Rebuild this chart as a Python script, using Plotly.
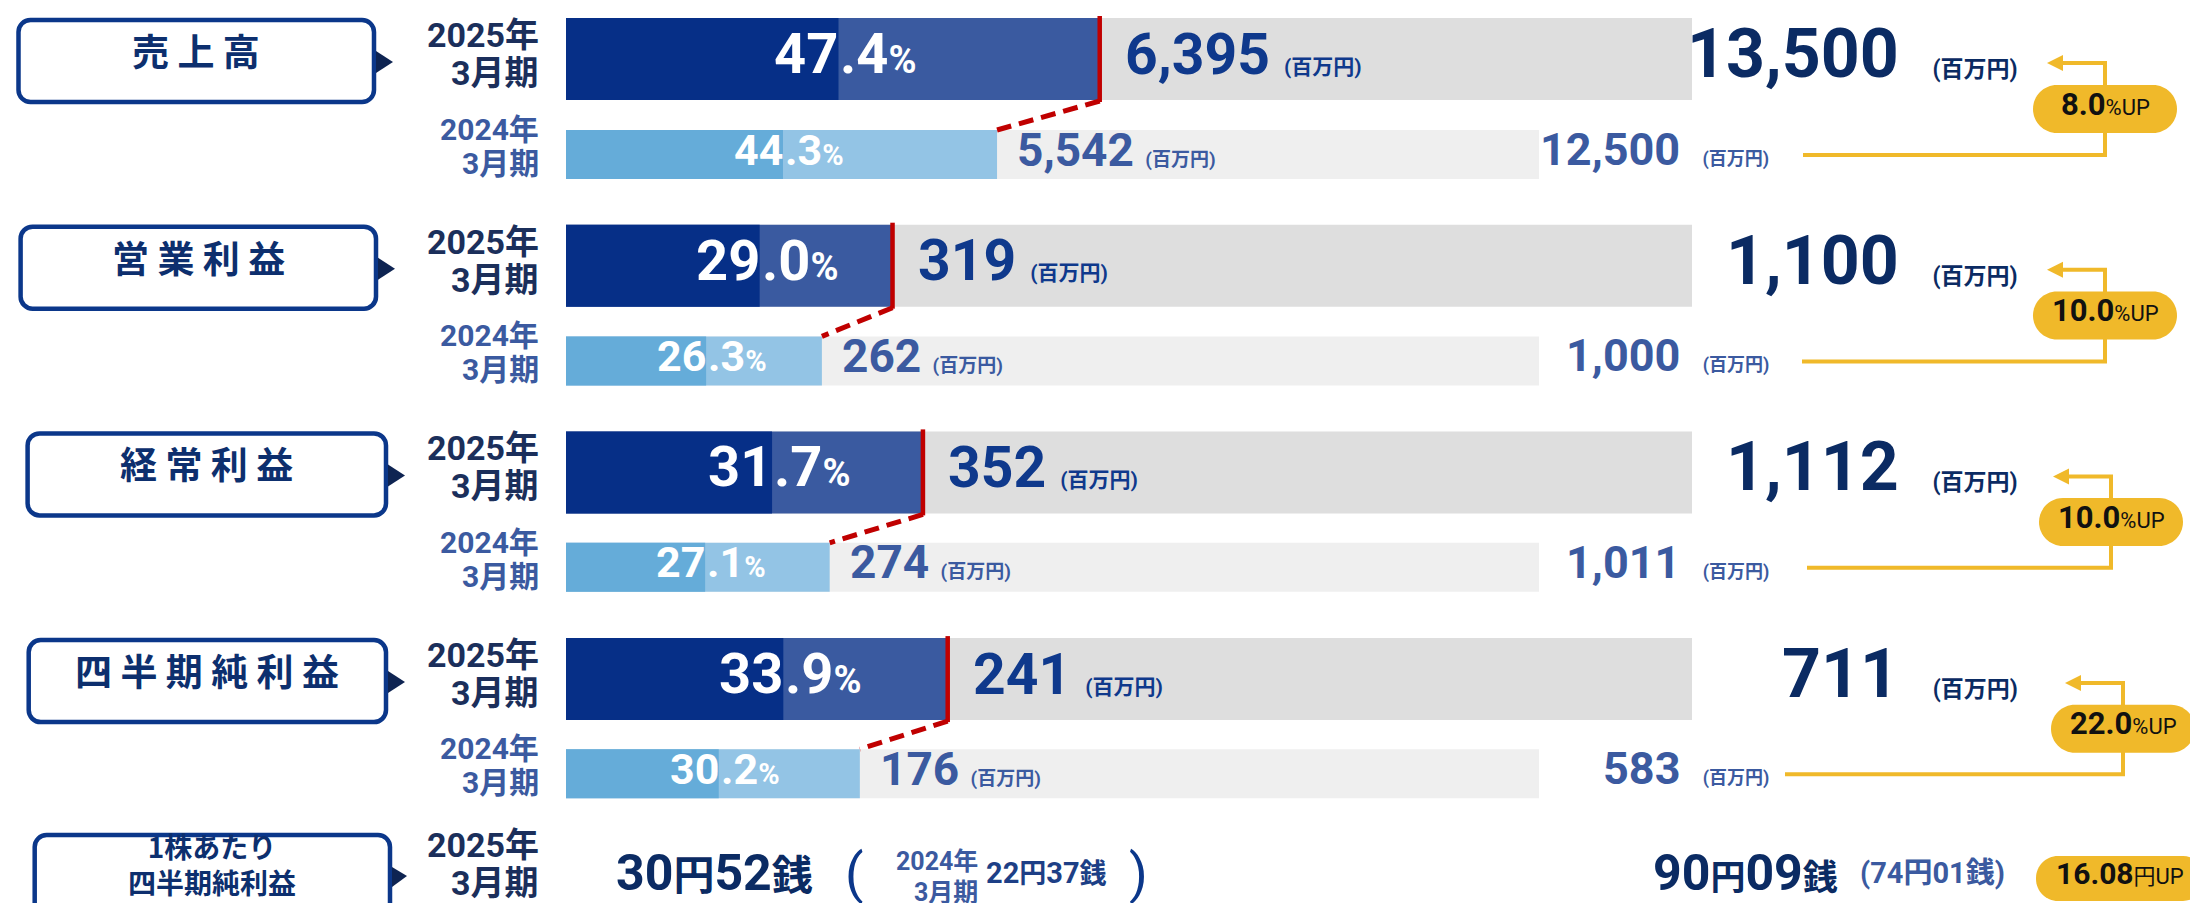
import plotly.graph_objects as go

# ---------------- data ----------------
metrics = ["売上高", "営業利益", "経常利益", "四半期純利益"]
plan_fy2025 = [13500, 1100, 1112, 711]        # full-year forecast (2025年3月期)
actual_2025 = [6395, 319, 352, 241]           # cumulative actual (2025年3月期)
plan_fy2024 = [12500, 1000, 1011, 583]        # full-year (2024年3月期)
actual_2024 = [5542, 262, 274, 176]           # cumulative actual (2024年3月期)
progress_2025 = [47.4, 29.0, 31.7, 33.9]      # progress rate %
progress_2024 = [44.3, 26.3, 27.1, 30.2]
inner_2025 = [24.2, 17.2, 18.3, 19.3]         # inner dark segment (estimated, % of plan)
inner_2024 = [22.3, 14.4, 14.3, 15.7]
growth_pct = [8.0, 10.0, 10.0, 22.0]
year_2025 = ["2025年", "3月期"]
year_2024 = ["2024年", "3月期"]
unit_label = "(百万円)"
eps_title = ["1株あたり", "四半期純利益"]
eps_actual_2025 = (30, 52)
eps_actual_2024 = (22, 37)
eps_plan_2025 = (90, 9)
eps_plan_2024 = (74, 1)
eps_up = 16.08

# ---------------- styles ----------------
W, H = 2198, 903
F_NUM = "Roboto, Noto Sans CJK JP, sans-serif"
F_JP = "Noto Sans CJK JP, sans-serif"
C_DARK = "#062f87"
C_MID = "#3a5aa0"
C_LB = "#65acd9"
C_LB2 = "#93c4e5"
C_G25 = "#dedede"
C_G24 = "#efefef"
C_RED = "#c00000"
C_YEL = "#f0b92a"
C_NAVY = "#0b2b63"
C_VAL25 = "#0f398c"
C_BLUE24 = "#3b5aa0"
C_BOX = "#0b378a"
C_TRI = "#0e2452"
UP = 5      # baseline correction (px) for annotations
UP_JP = 6   # extra correction for CJK-only text

SCALE24 = 973 / 1126          # 2024 bar drawn shorter than 2025 bar
c25 = [51 + i * 206.7 for i in range(4)]
c24 = [146.5 + i * 206.4 for i in range(4)]
H25, H24 = 82, 49
box_x0 = [10.5, 12.6, 19.6, 20.7]
box_x1 = [366, 368, 378, 378]
line_start = [1795, 1794, 1799, 1777]
vert_x = [2097, 2097, 2103, 2115]
EPS_Y = 870


def P(x):
    return x / W


def rrect(x0, y0, x1, y1, r):
    k = 0.5523 * r
    X = lambda v: f"{P(v):.6f}"
    return (f"M{X(x0+r)},{y0} L{X(x1-r)},{y0} C{X(x1-r+k)},{y0} {X(x1)},{y0+r-k} {X(x1)},{y0+r} "
            f"L{X(x1)},{y1-r} C{X(x1)},{y1-r+k} {X(x1-r+k)},{y1} {X(x1-r)},{y1} "
            f"L{X(x0+r)},{y1} C{X(x0+r-k)},{y1} {X(x0)},{y1-r+k} {X(x0)},{y1-r} "
            f"L{X(x0)},{y0+r} C{X(x0)},{y0+r-k} {X(x0+r-k)},{y0} {X(x0+r)},{y0} Z")


def poly(pts, close=False):
    s = "M" + " L".join(f"{P(x):.6f},{y}" for x, y in pts)
    return s + (" Z" if close else "")


fig = go.Figure()

# ---------------- bars ----------------
def hbar(x, y, width, color):
    fig.add_trace(go.Bar(x=x, y=y, width=width, orientation="h",
                         marker=dict(color=color, line=dict(width=0)),
                         hoverinfo="skip", showlegend=False))

hbar([100] * 4, c25, H25, C_G25)
hbar(progress_2025, c25, H25, C_MID)
hbar(inner_2025, c25, H25, C_DARK)
hbar([100 * SCALE24] * 4, c24, H24, C_G24)
hbar([p * SCALE24 for p in progress_2024], c24, H24, C_LB2)
hbar([p * SCALE24 for p in inner_2024], c24, H24, C_LB)

shapes = []
ann = []


def A(x, y, text, size, color, family=F_NUM, xanchor="center", yanchor="middle",
      xref="paper", xshift=0, yshift=0, align="center"):
    if xref == "paper":
        x = P(x)
    extra = UP_JP if family == F_JP else 0
    ann.append(dict(x=x, y=y, xref=xref, yref="y", text=text, showarrow=False,
                    font=dict(size=size, color=color, family=family),
                    xanchor=xanchor, yanchor=yanchor, xshift=xshift, yshift=yshift + UP + extra,
                    align=align))


for i, name in enumerate(metrics):
    # label box + pointer
    y0, y1 = c25[i] - 39, c25[i] + 43
    shapes.append(dict(type="path", path=rrect(box_x0[i], y0, box_x1[i], y1, 12),
                       xref="paper", yref="y", line=dict(color=C_BOX, width=4.5),
                       fillcolor="white"))
    tx = box_x1[i] + 2
    ty = c25[i] + 3
    shapes.append(dict(type="path", path=poly([(tx, ty - 11), (tx + 17, ty), (tx, ty + 11)], True),
                       xref="paper", yref="y", line=dict(width=0), fillcolor=C_TRI))
    A((box_x0[i] + box_x1[i]) / 2, c25[i] + 2, "<b>" + " ".join(name) + "</b>", 37,
      "#0d2f6e", family=F_JP)

    # year labels
    A(533, c25[i] - 19, "<b>" + year_2025[0] + "</b>", 34, "#1b2f5b", xanchor="right")
    A(533, c25[i] + 19, "<b>" + year_2025[1] + "</b>", 34, "#1b2f5b", xanchor="right")
    A(533, c24[i] - 20, "<b>" + year_2024[0] + "</b>", 30, C_BLUE24, xanchor="right")
    A(533, c24[i] + 14, "<b>" + year_2024[1] + "</b>", 30, C_BLUE24, xanchor="right")

    # progress labels (decimal point sits at inner split)
    s25 = f"{progress_2025[i]:.1f}"
    ip, fp = s25.split(".")
    A(inner_2025[i], c25[i], f"<b>{ip}</b>", 56, "white", xref="x", xanchor="right", xshift=2)
    A(inner_2025[i], c25[i], f"<b>.{fp}<span style='font-size:38px'>%</span></b>", 56,
      "white", xref="x", xanchor="left", xshift=0)
    s24 = f"{progress_2024[i]:.1f}"
    ip, fp = s24.split(".")
    A(inner_2024[i] * SCALE24, c24[i], f"<b>{ip}</b>", 43, "white", xref="x",
      xanchor="right", xshift=2)
    A(inner_2024[i] * SCALE24, c24[i], f"<b>.{fp}<span style='font-size:29px'>%</span></b>",
      43, "white", xref="x", xanchor="left", xshift=0)

    # actual values
    A(progress_2025[i], c25[i], f"<b>{actual_2025[i]:,}</b> <span style='font-size:21px'><b>{unit_label}</b></span>",
      57, C_VAL25, xref="x", xanchor="left", xshift=23)
    A(progress_2024[i] * SCALE24, c24[i], f"<b>{actual_2024[i]:,}</b> <span style='font-size:19px'><b>{unit_label}</b></span>",
      46, C_BLUE24, xref="x", xanchor="left", xshift=18)

    # full-year values
    A(2012, c25[i], f"<b>{plan_fy2025[i]:,}</b>  <span style='font-size:23px'><b>{unit_label}</b></span>",
      68, C_NAVY, xanchor="right")
    A(1763, c24[i], f"<b>{plan_fy2024[i]:,}</b>  <span style='font-size:18px'><b>{unit_label}</b></span>",
      45, C_BLUE24, xanchor="right")

    # red progress marker and dashed connector
    shapes.append(dict(type="line", xref="x", yref="y", x0=progress_2025[i], x1=progress_2025[i],
                       y0=c25[i] - H25 / 2 - 2, y1=c25[i] + H25 / 2 + 2,
                       line=dict(color=C_RED, width=4.5)))
    shapes.append(dict(type="line", xref="x", yref="y", x0=progress_2025[i],
                       y0=c25[i] + H25 / 2 + 1, x1=progress_2024[i] * SCALE24,
                       y1=c24[i] - H24 / 2, line=dict(color=C_RED, width=5, dash="15px,8px")))

    # yellow growth connector
    yl, yu, xv = c24[i] + 0.5, c25[i] + 4, vert_x[i]
    shapes.append(dict(type="path", xref="paper", yref="y",
                       path=poly([(line_start[i], yl), (xv, yl), (xv, yu), (xv - 44, yu)]),
                       line=dict(color=C_YEL, width=4), fillcolor="rgba(0,0,0,0)"))
    shapes.append(dict(type="path", xref="paper", yref="y",
                       path=poly([(xv - 58, yu), (xv - 42, yu - 8), (xv - 42, yu + 8)], True),
                       line=dict(width=0), fillcolor=C_YEL))
    ym = (yl + yu) / 2
    shapes.append(dict(type="path", xref="paper", yref="y",
                       path=rrect(xv - 72, ym - 24, xv + 72, ym + 24, 24),
                       line=dict(width=0), fillcolor=C_YEL))
    A(xv, ym, f"<b>{growth_pct[i]:.1f}</b><span style='font-size:22px'>%UP</span>", 31, "#111111")

# ---------------- EPS row ----------------
shapes.append(dict(type="path", path=rrect(26.7, 827, 382, 912, 12), xref="paper", yref="y",
                   line=dict(color=C_BOX, width=4.5), fillcolor="white"))
shapes.append(dict(type="path", path=poly([(384, EPS_Y - 11), (399, EPS_Y - 2), (384, EPS_Y + 9)], True),
                   xref="paper", yref="y", line=dict(width=0), fillcolor=C_TRI))
A(204, 867, "<b>" + "<br>".join(eps_title) + "</b>", 28, "#0d2f6e", family=F_JP)
A(533, 845, "<b>" + year_2025[0] + "</b>", 34, "#1b2f5b", xanchor="right", yshift=3)
A(533, 883, "<b>" + year_2025[1] + "</b>", 34, "#1b2f5b", xanchor="right", yshift=3)


def yen(v, small):
    return (f"<b>{v[0]}<span style='font-size:{small}px'>円</span>{v[1]:02d}"
            f"<span style='font-size:{small}px'>銭</span></b>")


A(606, EPS_Y, yen(eps_actual_2025, 41), 50, C_NAVY, xanchor="left")
A(835, EPS_Y, "(", 54, C_BOX, xanchor="left", family=F_NUM)
A(972, 858, "<b>" + year_2024[0] + "</b>", 25, C_BLUE24, xanchor="right")
A(972, 889, "<b>" + year_2024[1] + "</b>", 25, C_BLUE24, xanchor="right")
A(976, EPS_Y, yen(eps_actual_2024, 27), 29, "#1d3f86", xanchor="left")
A(1119, EPS_Y, ")", 54, C_BOX, xanchor="left", family=F_NUM)
A(1643, EPS_Y, yen(eps_plan_2025, 35), 50, C_NAVY, xanchor="left")
A(1850, EPS_Y, "<b>(" + f"{eps_plan_2024[0]}円{eps_plan_2024[1]:02d}銭" + ")</b>", 29, C_BLUE24,
  xanchor="left")
shapes.append(dict(type="path", xref="paper", yref="y", path=rrect(2028, 848, 2197, 893, 22),
                   line=dict(width=0), fillcolor=C_YEL))
A(2112, EPS_Y, f"<b>{eps_up:.2f}</b><span style='font-size:22px'>円UP</span>", 30, "#111111")

fig.update_layout(
    width=W, height=H, margin=dict(l=0, r=0, t=0, b=0),
    paper_bgcolor="white", plot_bgcolor="white",
    barmode="overlay", showlegend=False, hovermode=False,
    xaxis=dict(domain=[558 / W, 1684 / W], range=[0, 100], visible=False, fixedrange=True),
    yaxis=dict(domain=[0, 1], range=[H, 0], visible=False, fixedrange=True),
    shapes=shapes, annotations=ann,
)

fig.write_html("out.html", config={"displayModeBar": False})
